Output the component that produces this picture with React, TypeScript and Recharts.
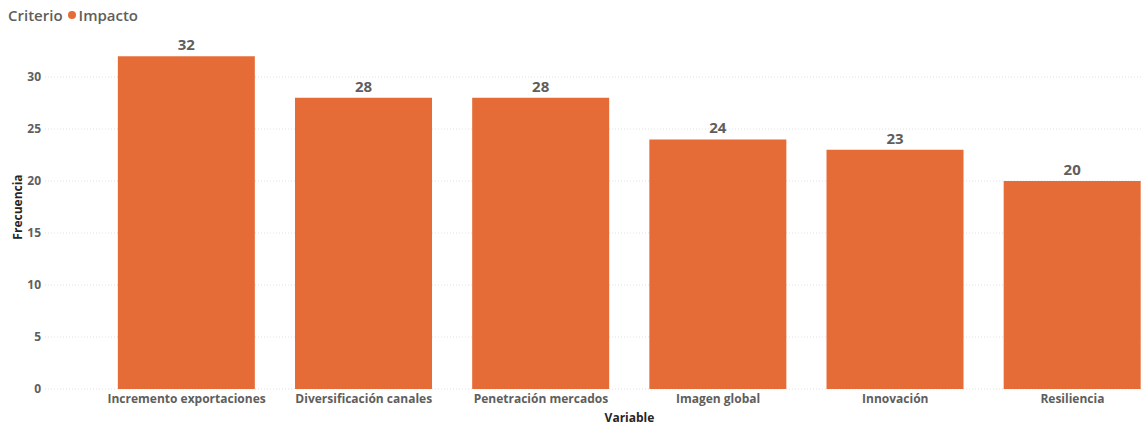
import { BarChart, Bar, XAxis, YAxis, CartesianGrid, LabelList } from "recharts"

const categories = [
  "Incremento exportaciones",
  "Diversificación canales",
  "Penetración mercados",
  "Imagen global",
  "Innovación",
  "Resiliencia",
]
const impacto = [32, 28, 28, 24, 23, 20]
const yTicks = [0, 5, 10, 15, 20, 25, 30]

const data = categories.map((name, i) => ({ name, impacto: impacto[i] }))

const FONT = "'Open Sans', 'Noto Sans', sans-serif"
const ORANGE = "#E66C37"

export default function App() {
  return (
    <div
      style={{
        position: "absolute",
        left: 0,
        top: 0,
        width: 1143,
        height: 426,
        overflow: "hidden",
        background: "#fff",
        fontFamily: FONT,
      }}
    >
      <div
        style={{
          position: "absolute",
          left: 8,
          top: 5,
          fontSize: 15,
          fontWeight: 600,
          color: "#605E5C",
          display: "flex",
          alignItems: "center",
          zIndex: 2,
        }}
      >
        <span>Criterio</span>
        <span
          style={{
            display: "inline-block",
            width: 8,
            height: 8,
            borderRadius: 4,
            background: ORANGE,
            margin: "0 3px 0 5px",
          }}
        />
        <span>Impacto</span>
      </div>
      <BarChart
        width={1214}
        height={426}
        data={data}
        margin={{ top: 25, right: 0, left: 0, bottom: 0 }}
        barCategoryGap="11.2%"
      >
        <CartesianGrid
          vertical={false}
          horizontalValues={yTicks}
          stroke="#E1E1E1"
          strokeDasharray="1 2"
        />
        <XAxis
          dataKey="name"
          height={37}
          padding={{ left: 53, right: 53 }}
          axisLine={false}
          tickLine={false}
          tickSize={0}
          tickMargin={5}
          interval={0}
          tick={{ fill: "#605E5C", fontSize: 12, fontWeight: 700, fontFamily: FONT }}
          label={{
            value: "Variable",
            position: "insideBottom",
            offset: 4,
            fill: "#252423",
            fontSize: 12,
            fontWeight: 700,
            fontFamily: FONT,
          }}
        />
        <YAxis
          width={45}
          domain={[0, 35]}
          ticks={yTicks}
          axisLine={false}
          tickLine={false}
          tickSize={0}
          tickMargin={4}
          tick={{ fill: "#605E5C", fontSize: 12, fontWeight: 700, fontFamily: FONT }}
          label={{
            value: "Frecuencia",
            angle: -90,
            position: "center",
            dx: -5,
            fill: "#252423",
            fontSize: 12,
            fontWeight: 700,
            fontFamily: FONT,
          }}
        />
        <Bar dataKey="impacto" fill={ORANGE} isAnimationActive={false}>
          <LabelList
            dataKey="impacto"
            position="top"
            offset={6}
            fill="#605E5C"
            fontSize={15}
            fontWeight={700}
            fontFamily={FONT}
          />
        </Bar>
      </BarChart>
    </div>
  )
}
